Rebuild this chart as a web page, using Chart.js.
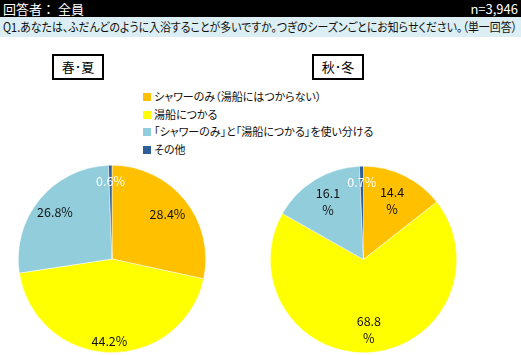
<!DOCTYPE html>
<html><head><meta charset="utf-8">
<script src="https://cdn.jsdelivr.net/npm/chart.js@4"></script>
<style>
body{margin:0;width:521px;height:355px;background:#fff;position:relative;overflow:hidden;font-family:"Noto Sans CJK JP","Noto Sans",sans-serif;font-feature-settings:"palt";}
#hdr{position:absolute;left:0;top:0;width:521px;height:17px;background:#000;color:#fff;font-size:13px;line-height:17px;font-feature-settings:normal;}
#hdr .l{position:absolute;left:3px;top:0}
#hdr .r{position:absolute;right:3px;top:0}
#q{position:absolute;left:0;top:17px;width:521px;height:20px;background:#DAEEF3;color:#111;font-size:12.5px;line-height:20px;}
#q span{position:absolute;left:3px;top:0;white-space:nowrap;transform-origin:0 50%}
.box{position:absolute;width:48px;height:22px;border:2px solid #000;font-size:13px;line-height:22px;text-align:center;color:#000}
#legend{position:absolute;left:143px;top:88px;font-size:11px;color:#111}
#legend div{height:17.5px;line-height:17.5px;white-space:nowrap}
#legend i{display:inline-block;width:8px;height:8px;margin-right:3px;vertical-align:0px}
canvas{position:absolute}
</style></head><body>
<div id="hdr"><span class="l">回答者： 全員</span><span class="r">n=3,946</span></div>
<div id="q"><span id="qt">Q1.あなたは、ふだんどのように入浴することが多いですか。つぎのシーズンごとにお知らせください。（単一回答）</span></div>
<div class="box" style="left:52px;top:54px">春･夏</div>
<div class="box" style="left:312px;top:54px">秋･冬</div>
<div id="legend"></div>
<div style="position:absolute;left:18px;top:165px;width:188px;height:188px"><canvas id="c1"></canvas></div>
<div style="position:absolute;left:270px;top:166px;width:187px;height:187px"><canvas id="c2"></canvas></div>
<script>
const categories = ["シャワーのみ（湯船にはつからない）","湯船につかる","「シャワーのみ」と「湯船につかる」を使い分ける","その他"];
const springSummer = [28.4, 44.2, 26.8, 0.6];
const autumnWinter = [14.4, 68.8, 16.1, 0.7];
const colors = ["#FFC000","#FFFF00","#92CDDC","#2F5F97"];
const labelColors = ["#111","#111","#111","#fff"];

const lg = document.getElementById('legend');
categories.forEach((c,i)=>{
  const d=document.createElement('div');
  d.innerHTML='<i style="background:'+colors[i]+'"></i>'+c;
  lg.appendChild(d);
});
// fit question line into the band width
const qt=document.getElementById('qt');
const w=qt.getBoundingClientRect().width;
if(w>514){qt.style.transform='scaleX('+(514/w)+')';}

const labelPlugin = {
  id:'pieLabels',
  afterDatasetsDraw(chart, args, opts){
    const ctx=chart.ctx;
    const meta=chart.getDatasetMeta(0);
    const data=chart.data.datasets[0].data;
    ctx.save();
    ctx.font='12.5px "Noto Sans CJK JP", sans-serif';
    ctx.textAlign='center';ctx.textBaseline='middle';
    meta.data.forEach((arc,i)=>{
      const p=arc.getProps(['x','y','startAngle','endAngle','outerRadius'],true);
      const a=(p.startAngle+p.endAngle)/2;
      const f=(opts.frac && opts.frac[i])||0.76;
      const x=p.x+Math.cos(a)*p.outerRadius*f;
      const y=p.y+Math.sin(a)*p.outerRadius*f;
      ctx.fillStyle=labelColors[i];
      const txt=data[i].toFixed(1);
      if(opts.wrap && i<3){
        ctx.fillText(txt,x,y-8.5);
        ctx.fillText('%',x,y+8.5);
      } else {
        ctx.fillText(txt+'%',x,y);
      }
    });
    ctx.restore();
  }
};

function makePie(id, values, opts){
  new Chart(document.getElementById(id),{
    type:'pie',
    data:{labels:categories,datasets:[{data:values,backgroundColor:colors,borderColor:'#ffffff',borderWidth:0.5}]},
    options:{responsive:true,maintainAspectRatio:false,animation:false,
      layout:{padding:0},
      plugins:{legend:{display:false},tooltip:{enabled:false},pieLabels:opts}},
    plugins:[labelPlugin]
  });
}
makePie('c1', springSummer, {wrap:false, frac:[0.76,0.88,0.79,0.83]});
makePie('c2', autumnWinter, {wrap:true, frac:[0.7,0.76,0.73,0.83]});
</script>
</body></html>
